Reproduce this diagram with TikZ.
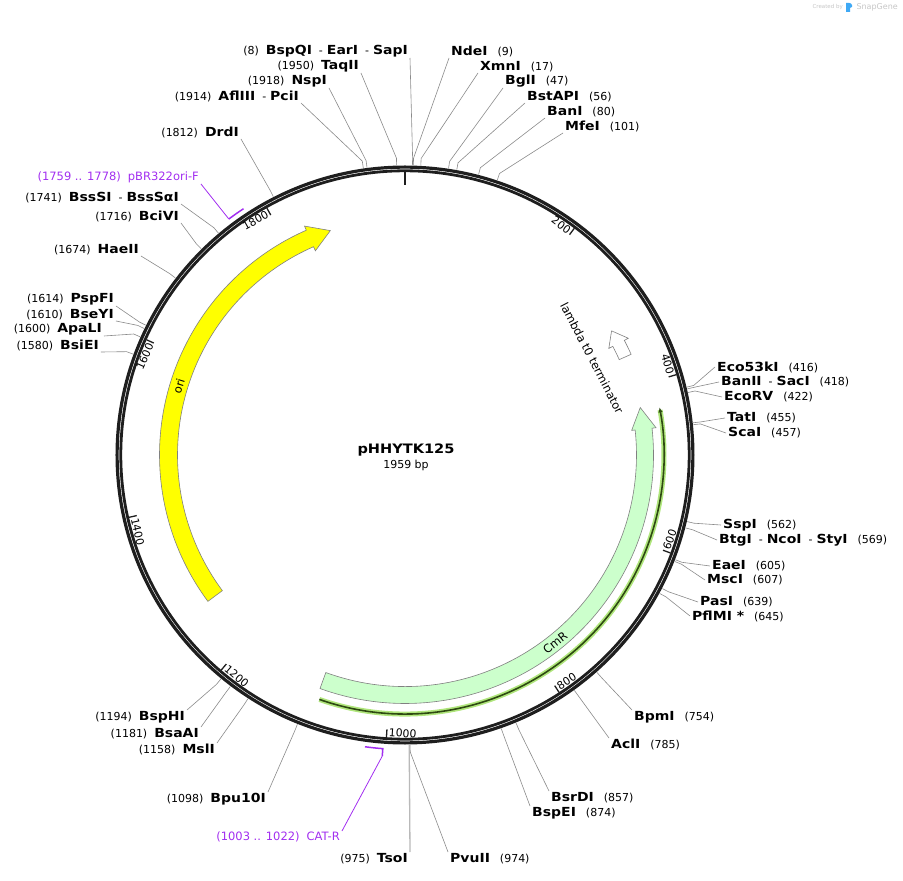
\documentclass[tikz,border=0pt]{standalone}
\usepackage{fontspec}
\setmainfont{DejaVu Sans}
\newfontfamily\widefont{DejaVu Sans}[FakeStretch=1.12]
\usetikzlibrary{arrows.meta}
\definecolor{ringcol}{HTML}{1E1E1E}
\definecolor{leadcol}{HTML}{8A8A8A}
\definecolor{oricol}{HTML}{FFFF00}
\definecolor{cmrcol}{HTML}{CCFFCC}
\definecolor{orfdark}{HTML}{2E4A12}
\definecolor{orfglow}{HTML}{B0E67C}
\definecolor{primcol}{HTML}{A22EF0}
\definecolor{sgblue}{HTML}{3FA9F5}
\newcommand{\enz}[1]{{\widefont\fontsize{12.5}{14}\selectfont\bfseries #1}}
\newcommand{\bpn}[1]{{\fontsize{11}{13}\selectfont #1}}
\newcommand{\enzsep}{\hspace{7pt}\bpn{-}\hspace{4pt}}
\def\cutline(#1)(#2){\draw[leader] (#1:290) -- (#1:297) -- (#2);}

\tikzset{
  leader/.style={draw=leadcol, line width=0.6pt},
  enzlabel/.style={inner xsep=2pt, inner ysep=1pt},
  ticklabel/.style={inner xsep=2pt, inner ysep=1pt, font=\fontsize{10.8}{12}\selectfont},
  tickmark/.style={ringcol, line width=1.3pt},
  feat/.style={draw=gray, line width=0.6pt},
  featlabel/.style={font=\fontsize{11.5}{13}\selectfont, inner sep=1pt},
  primer/.style={draw=primcol, line width=1.5pt},
  primerlead/.style={draw=primcol, line width=0.8pt},
  primerlabel/.style={text=primcol, font=\fontsize{11.5}{13}\selectfont, inner xsep=2pt, inner ysep=1pt},
}

\begin{document}
\begin{tikzpicture}[x=1pt, y=1pt]
  \useasboundingbox (-405,-426) rectangle (498,455);

  %% backbone
  \draw[ringcol, line width=3.2pt] (0,0) circle[radius=287.9];
  \draw[ringcol, line width=2.8pt] (0,0) circle[radius=284.2];
  \draw[ringcol, line width=2pt] (90:283) -- (90:270);
  \foreach \p in {200,400,...,1800}{
    \pgfmathsetmacro\a{90-\p/1959*360}
    \draw[tickmark] (\a:283) -- (\a:275);
  }
  \foreach \p in {200,400,1600,1800}{
    \pgfmathsetmacro\a{90-\p/1959*360}
    \node[ticklabel, rotate=\a-90, anchor=north east] (t\p) at (\a:283) {\p};
  }
  \foreach \p in {600,800,1000,1200,1400}{
    \pgfmathsetmacro\a{90-\p/1959*360}
    \node[ticklabel, rotate=\a+90, anchor=south west] (t\p) at (\a:283) {\p};
  }

  %% features
  \draw[feat, fill=oricol] (216.6:227.5) arc[start angle=216.6, end angle=113.7, radius=227.5]
    -- (113.7:223) -- (108.4:236.5) -- (113.7:250) -- (113.7:245.5)
    arc[start angle=113.7, end angle=216.6, radius=245.5] -- cycle;
  \draw[feat, fill=cmrcol] (-110:231.5) arc[start angle=-110, end angle=6.2, radius=231.5]
    -- (6.2:228) -- (11.4:240) -- (6.2:252.5) -- (6.2:248.5)
    arc[start angle=6.2, end angle=-110, radius=248.5] -- cycle;
  \draw[feat, fill=white] (24:234.5) arc[start angle=24, end angle=27.6, radius=234.5]
    -- (27.6:230) -- (31:241) -- (27.6:252) -- (27.6:247.5)
    arc[start angle=27.6, end angle=24, radius=247.5] -- cycle;
  \draw[orfglow, line width=5pt] (-109.3:259) arc[start angle=-109.3, end angle=10, radius=259];
  \draw[orfdark, line width=1.6pt, -{Latex[length=5pt,width=4.5pt]}] (-109.3:259) arc[start angle=-109.3, end angle=10.6, radius=259];

  \node[featlabel, rotate=73] (orilab) at (163:236.5) {ori};
  \node[featlabel, rotate=38.7] (cmrlab) at (-51.3:240) {CmR};
  \node[featlabel, rotate=-62.6] (termlab) at (27.4:210.7) {lambda t0 terminator};

  \node[font=\widefont\fontsize{13}{15}\selectfont\bfseries] (title) at (1,5) {pHHYTK125};
  \node[font=\fontsize{11}{12}\selectfont] (size) at (1,-10) {1959 bp};

  %% primers
  \draw[primer] (126.74:294.5) arc[start angle=126.74, end angle=123.25, radius=294.5];
  \node[primerlabel, anchor=south east] (orif) at (-204,271) {(1759 .. 1778)\hspace{7pt}pBR322ori-F};
  \draw[primerlead] (126.74:294.5) -- (orif.south east);
  \draw[primer] (-97.81:294.5) arc[start angle=-97.81, end angle=-94.32, radius=294.5] -- (-94.32:302);
  \node[primerlabel, anchor=north east] (catr) at (-63,-376) {(1003 .. 1022)\hspace{7pt}CAT-R};
  \draw[primerlead] (-94.32:302) -- (catr.north east);

  %% sites, upper left
  \node[enzlabel, anchor=south east] (bspqi) at (5,397) {\bpn{(8)}\hspace{7pt}\enz{BspQI}\enzsep\enz{EarI}\enzsep\enz{SapI}};
  \cutline(88.53)(bspqi.south east)
  \node[enzlabel, anchor=south east] (taqii) at (-44,382) {\bpn{(1950)}\hspace{7pt}\enz{TaqII}};
  \cutline(91.65)(taqii.south east)
  \node[enzlabel, anchor=south east] (nspi) at (-76,367) {\bpn{(1918)}\hspace{7pt}\enz{NspI}};
  \cutline(97.53)(nspi.south east)
  \node[enzlabel, anchor=south east] (afliii) at (-104,352) {\bpn{(1914)}\hspace{7pt}\enz{AflIII}\enzsep\enz{PciI}};
  \cutline(98.27)(afliii.south east)
  \node[enzlabel, anchor=south east] (drdi) at (-164,316) {\bpn{(1812)}\hspace{7pt}\enz{DrdI}};
  \cutline(117.0)(drdi.south east)
  \node[enzlabel, anchor=south east] (bsssi) at (-224,251) {\bpn{(1741)}\hspace{7pt}\enz{BssSI}\enzsep\enz{BssSαI}};
  \cutline(130.06)(bsssi.south east)
  \node[enzlabel, anchor=south east] (bcivi) at (-224,232) {\bpn{(1716)}\hspace{7pt}\enz{BciVI}};
  \cutline(134.65)(bcivi.south east)
  \node[enzlabel, anchor=south east] (haeii) at (-264,199) {\bpn{(1674)}\hspace{7pt}\enz{HaeII}};
  \cutline(142.37)(haeii.south east)
  \node[enzlabel, anchor=south east] (pspfi) at (-289,149) {\bpn{(1614)}\hspace{7pt}\enz{PspFI}};
  \cutline(153.4)(pspfi.south east)
  \node[enzlabel, anchor=south east] (bseyi) at (-289,134) {\bpn{(1610)}\hspace{7pt}\enz{BseYI}};
  \cutline(154.13)(bseyi.south east)
  \node[enzlabel, anchor=south east] (apali) at (-301,119) {\bpn{(1600)}\hspace{7pt}\enz{ApaLI}};
  \cutline(155.96)(apali.south east)
  \node[enzlabel, anchor=south east] (bsiei) at (-304,103) {\bpn{(1580)}\hspace{7pt}\enz{BsiEI}};
  \cutline(159.64)(bsiei.south east)

  %% sites, upper right
  \node[enzlabel, anchor=south west] (ndei) at (44,397) {\enz{NdeI}\hspace{10pt}\bpn{(9)}};
  \cutline(88.35)(ndei.south west)
  \node[enzlabel, anchor=south west] (xmni) at (73,382) {\enz{XmnI}\hspace{10pt}\bpn{(17)}};
  \cutline(86.88)(xmni.south west)
  \node[enzlabel, anchor=south west] (bgli) at (98,367) {\enz{BglI}\hspace{10pt}\bpn{(47)}};
  \cutline(81.36)(bgli.south west)
  \node[enzlabel, anchor=south west] (bstapi) at (120,352) {\enz{BstAPI}\hspace{10pt}\bpn{(56)}};
  \cutline(79.71)(bstapi.south west)
  \node[enzlabel, anchor=south west] (bani) at (140,337) {\enz{BanI}\hspace{10pt}\bpn{(80)}};
  \cutline(75.3)(bani.south west)
  \node[enzlabel, anchor=south west] (mfei) at (158,322) {\enz{MfeI}\hspace{10pt}\bpn{(101)}};
  \cutline(71.44)(mfei.south west)

  %% sites, right
  \node[enzlabel, anchor=west] (eco53ki) at (310,88) {\enz{Eco53kI}\hspace{10pt}\bpn{(416)}};
  \cutline(13.55)(eco53ki.west)
  \node[enzlabel, anchor=west] (banii) at (314,73) {\enz{BanII}\enzsep\enz{SacI}\hspace{10pt}\bpn{(418)}};
  \cutline(13.18)(banii.west)
  \node[enzlabel, anchor=west] (ecorv) at (317,58) {\enz{EcoRV}\hspace{10pt}\bpn{(422)}};
  \cutline(12.45)(ecorv.west)
  \node[enzlabel, anchor=west] (tati) at (320,37) {\enz{TatI}\hspace{10pt}\bpn{(455)}};
  \cutline(6.38)(tati.west)
  \node[enzlabel, anchor=west] (scai) at (321,22) {\enz{ScaI}\hspace{10pt}\bpn{(457)}};
  \cutline(6.01)(scai.west)
  \node[enzlabel, anchor=west] (sspi) at (316,-70) {\enz{SspI}\hspace{10pt}\bpn{(562)}};
  \cutline(-13.28)(sspi.west)
  \node[enzlabel, anchor=west] (btgi) at (312,-85) {\enz{BtgI}\enzsep\enz{NcoI}\enzsep\enz{StyI}\hspace{10pt}\bpn{(569)}};
  \cutline(-14.57)(btgi.west)
  \node[enzlabel, anchor=west] (eaei) at (305,-111) {\enz{EaeI}\hspace{10pt}\bpn{(605)}};
  \cutline(-21.18)(eaei.west)
  \node[enzlabel, anchor=west] (msci) at (300,-125) {\enz{MscI}\hspace{10pt}\bpn{(607)}};
  \cutline(-21.55)(msci.west)
  \node[enzlabel, anchor=west] (pasi) at (293,-147) {\enz{PasI}\hspace{10pt}\bpn{(639)}};
  \cutline(-27.43)(pasi.west)
  \node[enzlabel, anchor=west] (pflmi) at (285,-161) {\enz{PflMI *}\hspace{10pt}\bpn{(645)}};
  \cutline(-28.53)(pflmi.west)

  %% sites, lower right
  \node[enzlabel, anchor=north west] (bpmi) at (227,-255) {\enz{BpmI}\hspace{10pt}\bpn{(754)}};
  \cutline(-48.56)(bpmi.north west)
  \node[enzlabel, anchor=north west] (acli) at (204,-283) {\enz{AclI}\hspace{10pt}\bpn{(785)}};
  \cutline(-54.26)(acli.north west)
  \node[enzlabel, anchor=north west] (bsrdi) at (144,-336) {\enz{BsrDI}\hspace{10pt}\bpn{(857)}};
  \cutline(-67.49)(bsrdi.north west)
  \node[enzlabel, anchor=north west] (bspei) at (125,-351) {\enz{BspEI}\hspace{10pt}\bpn{(874)}};
  \cutline(-70.61)(bspei.north west)
  \node[enzlabel, anchor=north west] (pvuii) at (43,-397) {\enz{PvuII}\hspace{10pt}\bpn{(974)}};
  \cutline(-88.99)(pvuii.north west)

  %% sites, lower left
  \node[enzlabel, anchor=north east] (tsoi) at (5,-397) {\bpn{(975)}\hspace{7pt}\enz{TsoI}};
  \draw[leader, draw=gray!55, line width=1.3pt] (-89.17:290) -- (tsoi.north east);
  \node[enzlabel, anchor=north east] (bpu10i) at (-137,-337) {\bpn{(1098)}\hspace{7pt}\enz{Bpu10I}};
  \cutline(-111.78)(bpu10i.north east)
  \node[enzlabel, anchor=north east] (msli) at (-188,-288) {\bpn{(1158)}\hspace{7pt}\enz{MslI}};
  \cutline(-122.8)(msli.north east)
  \node[enzlabel, anchor=north east] (bsaai) at (-204,-272) {\bpn{(1181)}\hspace{7pt}\enz{BsaAI}};
  \cutline(-127.03)(bsaai.north east)
  \node[enzlabel, anchor=north east] (bsphi) at (-218,-255) {\bpn{(1194)}\hspace{7pt}\enz{BspHI}};
  \cutline(-129.42)(bsphi.north east)

  %% credit
  \node[anchor=east, inner sep=0pt, text=gray!45, font=\fontsize{8}{9}\selectfont] (sg) at (493,448) {SnapGene};
  \fill[sgblue] (441,443) -- (441,452) .. controls (445,453) and (448,451) .. (447,448) -- (445,447) -- (445,443) -- cycle;
  \node[anchor=east, inner sep=0pt, text=gray!45, font=\fontsize{5.5}{6}\selectfont] (cb) at (438,448) {Created by};
\end{tikzpicture}
\end{document}
